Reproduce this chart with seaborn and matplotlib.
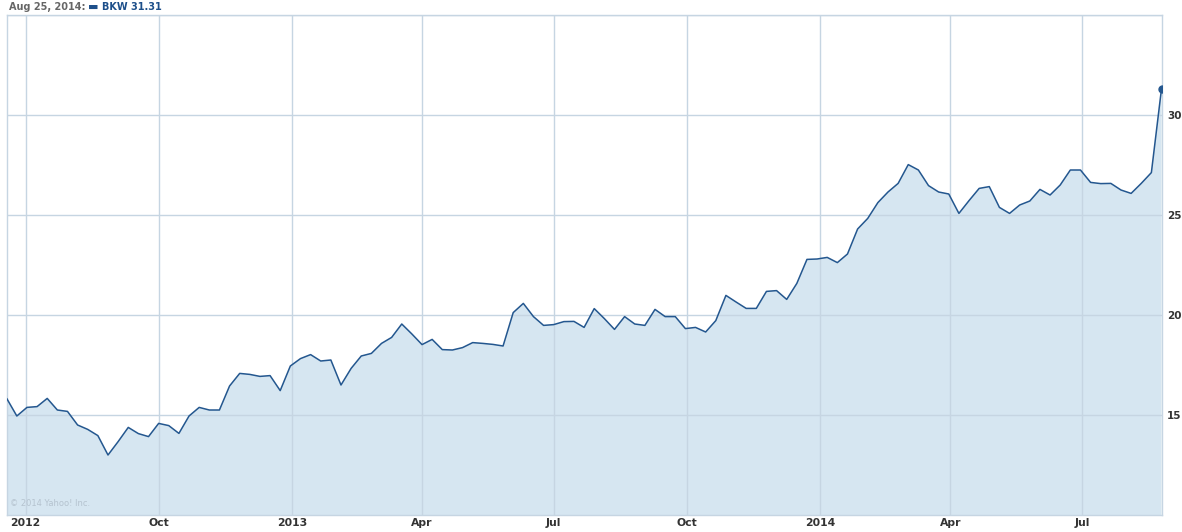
import matplotlib
matplotlib.use("Agg")
import matplotlib.pyplot as plt
import seaborn as sns
import pandas as pd

# weekly closes of BKW, Jun 2012 - Aug 2014
dates = pd.date_range("2012-06-18", periods=115, freq="7D")
close = [
    15.83, 14.95, 15.38, 15.42, 15.83, 15.25, 15.18, 14.50, 14.28, 13.97,
    13.00, 13.67, 14.38, 14.07, 13.92, 14.58, 14.47, 14.08, 14.95, 15.38,
    15.25, 15.25, 16.45, 17.08, 17.03, 16.93, 16.97, 16.22, 17.45, 17.82,
    18.02, 17.70, 17.75, 16.50, 17.33, 17.95, 18.08, 18.58, 18.88, 19.55,
    19.05, 18.52, 18.78, 18.27, 18.25, 18.37, 18.62, 18.58, 18.53, 18.45,
    20.12, 20.58, 19.92, 19.48, 19.52, 19.67, 19.68, 19.38, 20.32, 19.82,
    19.28, 19.92, 19.55, 19.48, 20.28, 19.92, 19.92, 19.32, 19.38, 19.15,
    19.72, 20.98, 20.65, 20.33, 20.33, 21.18, 21.22, 20.78, 21.58, 22.78,
    22.80, 22.88, 22.62, 23.05, 24.30, 24.83, 25.62, 26.15, 26.58, 27.52,
    27.25, 26.47, 26.15, 26.05, 25.08, 25.72, 26.33, 26.42, 25.38, 25.08,
    25.50, 25.70, 26.28, 26.00, 26.50, 27.25, 27.25, 26.63, 26.57, 26.58,
    26.25, 26.08, 26.58, 27.12, 31.31,
]
tick_dates = pd.to_datetime(["2012-07-01", "2012-10-01", "2013-01-01", "2013-04-01",
                             "2013-07-01", "2013-10-01", "2014-01-01", "2014-04-01",
                             "2014-07-01"])
tick_labels = ["2012", "Oct", "2013", "Apr", "Jul", "Oct", "2014", "Apr", "Jul"]
y_ticks = [15, 20, 25, 30]

df = pd.DataFrame({"date": dates, "close": close})

line_c = "#24578f"
fill_c = "#d6e6f1"
grid_c = "#c6d5e2"
text_c = "#333333"

sns.set_theme(style="white")
plt.rcParams["font.family"] = ["DejaVu Sans"]

fig = plt.figure(figsize=(11.82, 5.32), dpi=100)
ax = fig.add_axes([6.7 / 1182, 17 / 532, (1161.5 - 6.7) / 1182, 500 / 532])

ax.fill_between(df["date"], df["close"], 0, color=fill_c, lw=0, zorder=1)
sns.lineplot(data=df, x="date", y="close", color=line_c, lw=1.1, ax=ax, zorder=3)
ax.plot(df["date"].iloc[-1], df["close"].iloc[-1], "o", color=line_c, ms=5, zorder=4)

ax.set_xlim(df["date"].iloc[0], df["date"].iloc[-1])
ax.set_ylim(10, 35)

# grid
for d in tick_dates:
    ax.axvline(d, color=grid_c, lw=1, zorder=2)
for v in [15, 20, 25, 30, 35]:
    ax.axhline(v, color=grid_c, lw=1, zorder=2)

for s in ax.spines.values():
    s.set_color(grid_c)
    s.set_linewidth(1)

ax.set_xticks(tick_dates)
ax.set_xticklabels([])
ax.set_yticks(y_ticks)
ax.yaxis.tick_right()
ax.set_yticklabels([str(v) for v in y_ticks], fontsize=7.5, fontweight="bold", color=text_c)
ax.tick_params(axis="both", length=0, pad=4)
ax.set_xlabel("")
ax.set_ylabel("")

for d, lab in zip(tick_dates, tick_labels):
    ax.text(d, -0.006, lab, transform=ax.get_xaxis_transform(), ha="center", va="top",
            fontsize=7.8, fontweight="bold", color=text_c)

# header
fig.text(9 / 1182, 1 - 7 / 532, "Aug 25, 2014:", ha="left", va="center",
         fontsize=7, fontweight="bold", color="#666666")
fig.text(88 / 1182, 1 - 7 / 532, "\u25ac", ha="left", va="center", fontsize=8, color="#1d4f8a")
fig.text(102 / 1182, 1 - 7 / 532, "BKW 31.31", ha="left", va="center",
         fontsize=7, fontweight="bold", color="#1d4f8a")

ax.text(0.003, 0.013, "\u00a9 2014 Yahoo! Inc.", transform=ax.transAxes, ha="left",
        va="bottom", fontsize=6, color="#b5c3cf")

fig.savefig("out.png", dpi=100)
